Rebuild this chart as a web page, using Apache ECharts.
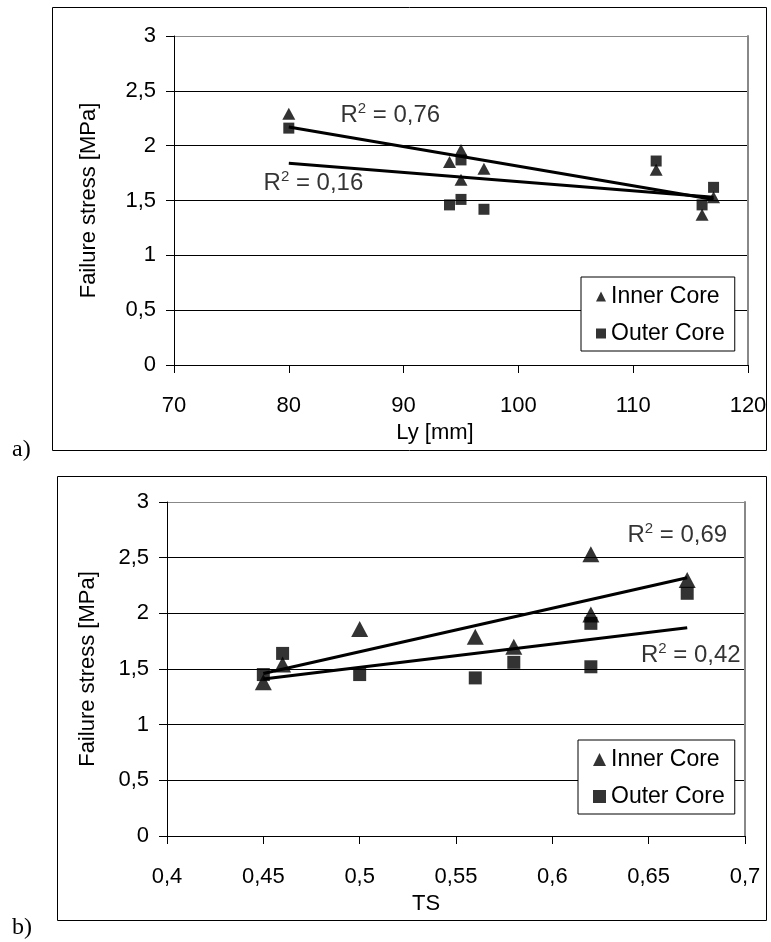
<html>
<head>
<meta charset="utf-8">
<title>Failure stress</title>
<script src="https://cdn.jsdelivr.net/npm/echarts@6/dist/echarts.min.js"></script>
<style>
  html, body { margin: 0; padding: 0; background: #fff; }
  #main { width: 771px; height: 942px; }
</style>
</head>
<body>
<div id="main"></div>
<script type="text/javascript">
// a) failure stress vs Ly [mm]
var lyInner = [[80, 2.29], [94, 1.85], [95, 1.96], [95, 1.69], [97, 1.79], [112, 1.78], [116, 1.37], [117, 1.53]];
var lyOuter = [[80, 2.16], [94, 1.46], [95, 1.87], [95, 1.51], [97, 1.42], [112, 1.86], [116, 1.46], [117, 1.62]];
var lyTrendInner = [[80, 2.17], [117, 1.51]];
var lyTrendOuter = [[80, 1.84], [117, 1.53]];
var lyR2Text = ['0,76', '0,16'];
var lyR2At = [[84.5, 2.28], [77.8, 1.66]];

// b) failure stress vs TS
var tsInner = [[0.45, 1.38], [0.46, 1.54], [0.50, 1.86], [0.56, 1.79], [0.58, 1.70], [0.62, 1.99], [0.62, 2.53], [0.67, 2.30]];
var tsOuter = [[0.45, 1.45], [0.46, 1.64], [0.50, 1.45], [0.56, 1.42], [0.58, 1.56], [0.62, 1.91], [0.62, 1.52], [0.67, 2.18]];
var tsTrendInner = [[0.45, 1.46], [0.67, 2.32]];
var tsTrendOuter = [[0.45, 1.41], [0.67, 1.87]];
var tsR2Text = ['0,69', '0,42'];
var tsR2At = [[0.639, 2.70], [0.646, 1.62]];

var seriesNames = ['Inner Core', 'Outer Core'];

var myChart = echarts.init(document.getElementById('main'));

var font = 'Liberation Sans, Arial, sans-serif';
var comma = function (v) { return String(+(+v).toFixed(2)).replace('.', ','); };

function xAx(grid, min, max, step, name, gap, pad) {
  return {
    gridIndex: grid, type: 'value', min: min, max: max, interval: step,
    axisLine: { show: true, onZero: false, lineStyle: { color: '#000', width: 1 } },
    axisTick: { show: true, length: 8, lineStyle: { color: '#000' } },
    axisLabel: { color: '#000', fontSize: 22, fontFamily: font, margin: 30, formatter: comma },
    splitLine: { show: false },
    name: name, nameLocation: 'middle', nameGap: gap,
    nameTextStyle: { color: '#000', fontSize: 22, fontFamily: font, padding: pad }
  };
}
function yAx(grid, gap) {
  return {
    gridIndex: grid, type: 'value', min: 0, max: 3, interval: 0.5,
    axisLine: { show: true, onZero: false, lineStyle: { color: '#000', width: 1 } },
    axisTick: { show: true, length: 8, lineStyle: { color: '#000' } },
    axisLabel: { color: '#000', fontSize: 22, fontFamily: font, margin: 18, formatter: comma },
    splitLine: { show: true, lineStyle: { color: ['#000', '#000', '#000', '#000', '#000', '#000', '#888'], width: 1 } },
    name: 'Failure stress [MPa]', nameLocation: 'middle', nameGap: gap,
    nameTextStyle: { color: '#000', fontSize: 22, fontFamily: font }
  };
}
function rightAx(grid) {
  return {
    gridIndex: grid, type: 'value', position: 'right', min: 0, max: 3, interval: 0.5,
    axisLine: { show: true, onZero: false, lineStyle: { color: '#888', width: 2 } },
    axisTick: { show: false }, axisLabel: { show: false }, splitLine: { show: false }
  };
}

function dots(name, data, xi, sym, size) {
  return { name: name, type: 'scatter', xAxisIndex: xi, yAxisIndex: xi * 2, data: data,
    symbol: sym, symbolSize: size, itemStyle: { color: '#000' }, z: 3 };
}
function trend(data, xi) {
  return { type: 'line', xAxisIndex: xi, yAxisIndex: xi * 2, data: data, symbol: 'none',
    lineStyle: { color: '#000', width: 3 }, silent: true, z: 4 };
}
function r2(at, text, xi) {
  return { type: 'scatter', xAxisIndex: xi, yAxisIndex: xi * 2, symbolSize: 0, silent: true, z: 5,
    data: at.map(function (p, i) { return { value: p, txt: text[i] }; }),
    label: { show: true, position: 'right', distance: 0,
      formatter: function (p) { return 'R{s|2} = ' + p.data.txt; },
      color: '#000', fontSize: 24, fontFamily: font, lineHeight: 28,
      rich: { s: { fontSize: 15, fontFamily: font, color: '#000', verticalAlign: 'top', lineHeight: 28 } } } };
}

function legendAt(left, top, w, tri) {
  return {
    orient: 'vertical', left: left, top: top, width: w,
    backgroundColor: '#fff', borderColor: '#000', borderWidth: 1,
    padding: [8, 10, 6, 15], itemGap: 14, itemWidth: tri, itemHeight: tri,
    textStyle: { color: '#000', fontSize: 23, fontFamily: font },
    data: [{ name: seriesNames[0], icon: 'triangle' },
           { name: seriesNames[1], icon: 'rect', itemStyle: { color: '#000' } }],
    selectedMode: false
  };
}

var option = {
  animation: false,
  backgroundColor: '#fff',
  textStyle: { fontFamily: font },
  grid: [
    { left: 174, top: 36, width: 574, height: 329 },
    { left: 167, top: 502, width: 578, height: 334 }
  ],
  xAxis: [
    xAx(0, 70, 120, 10, 'Ly [mm]', 57, [0, 52, 0, 0]),
    xAx(1, 0.4, 0.7, 0.05, 'TS', 57, [0, 60, 0, 0])
  ],
  yAxis: [yAx(0, 74), rightAx(0), yAx(1, 68), rightAx(1)],
  legend: [legendAt(581, 277, 140, 10), legendAt(578, 740, 140, 13)],
  graphic: [
    { type: 'rect', z: -1, shape: { x: 52.5, y: 7.5, width: 714, height: 443 },
      style: { fill: 'none', stroke: '#000', lineWidth: 1 } },
    { type: 'rect', z: -1, shape: { x: 57.5, y: 476.5, width: 709, height: 444 },
      style: { fill: 'none', stroke: '#000', lineWidth: 1 } },
    { type: 'text', left: 12, top: 438, style: { text: 'a)', font: '24px "Liberation Serif", serif', fill: '#000' } },
    { type: 'text', left: 12, top: 916, style: { text: 'b)', font: '24px "Liberation Serif", serif', fill: '#000' } }
  ],
  series: [
    dots(seriesNames[0], lyInner, 0, 'triangle', [13, 12]),
    dots(seriesNames[1], lyOuter, 0, 'rect', 11),
    trend(lyTrendInner, 0),
    trend(lyTrendOuter, 0),
    r2(lyR2At, lyR2Text, 0),
    dots(seriesNames[0], tsInner, 1, 'triangle', [17, 16]),
    dots(seriesNames[1], tsOuter, 1, 'rect', 13),
    trend(tsTrendInner, 1),
    trend(tsTrendOuter, 1),
    r2(tsR2At, tsR2Text, 1)
  ]
};
myChart.setOption(option);
</script>
</body>
</html>
